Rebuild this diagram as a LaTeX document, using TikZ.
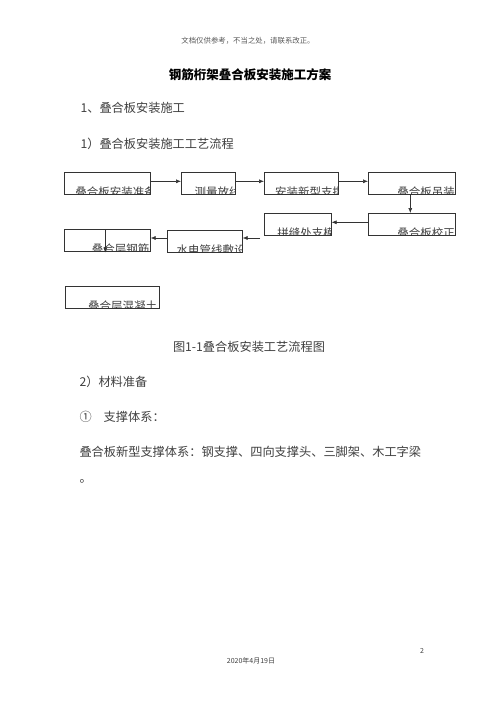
\documentclass[tikz,border=0pt]{standalone}
\usepackage{fontspec}
\setmainfont{Noto Sans CJK SC}
\usetikzlibrary{arrows.meta}
\newcommand{\bodyfont}{\fontsize{12.2}{14}\selectfont}
\newcommand{\boxfont}{\fontsize{11.5}{13}\selectfont}
\begin{document}
\begin{tikzpicture}[x=1pt,y=-1pt,
   flowbox/.style={draw=black!80,line width=0.6pt,anchor=north west,inner sep=0pt,minimum height=22pt},
   boxlabel/.style 2 args={path picture={\node[anchor=north west,inner sep=0pt,font=\boxfont,text=black!75]
       at ([xshift=#1pt,yshift=-8.5pt]path picture bounding box.north west) {#2};}},
   flowarrow/.style={-{Latex[length=5pt,width=4pt]},draw=black!80,line width=0.6pt},
   bodyline/.style={anchor=west,font=\bodyfont,text=black!75}]
\useasboundingbox[fill=white] (0,0) rectangle (500,707);
% page head and title
\node[font=\fontsize{7.4}{9}\selectfont,text=black!65] (hdr) at (248,41) {文档仅供参考，不当之处，请联系改正。};
\node[font=\fontsize{12.5}{14}\selectfont\bfseries] (title) at (250,75) {钢筋桁架叠合板安装施工方案};
\node[bodyline] (s1) at (77,108) {1、叠合板安装施工};
\node[bodyline] (s11) at (77,144) {1）叠合板安装施工工艺流程};
% flow chart
\node[flowbox,minimum width=86pt,boxlabel={8}{叠合板安装准备}] (b1) at (64,172) {};
\node[flowbox,minimum width=54pt,boxlabel={9}{测量放线}] (b2) at (181,172) {};
\node[flowbox,minimum width=74pt,boxlabel={8}{安装新型支撑}] (b3) at (264,172) {};
\node[flowbox,minimum width=87pt,boxlabel={14}{叠合板吊装}] (b4) at (368,172) {};
\node[flowbox,minimum width=87pt,boxlabel={14}{叠合板校正}] (b5) at (368,213) {};
\node[flowbox,minimum width=67pt,boxlabel={8}{拼缝处支模}] (b6) at (264,213) {};
\node[flowbox,minimum width=75pt,boxlabel={6}{水电管线敷设}] (b7) at (167,230) {};
\node[flowbox,minimum width=86pt,boxlabel={13}{叠合层钢筋}] (b8) at (64,229) {};
\node[flowbox,minimum width=94pt,boxlabel={10}{叠合层混凝土}] (b9) at (65,286) {};
\coordinate (free) at (260,238);
\draw[flowarrow] ([yshift=2pt]b1.east) -- ([yshift=2pt]b2.west);
\draw[flowarrow] ([yshift=2pt]b2.east) -- ([yshift=2pt]b3.west);
\draw[flowarrow] ([yshift=2pt]b3.east) -- ([yshift=2pt]b4.west);
\draw[flowarrow] ([xshift=-1.5pt]b4.south) -- ([xshift=-1.5pt]b5.north);
\draw[flowarrow] ([yshift=2pt]b5.west) -- ([yshift=2pt]b6.east);
\draw[flowarrow] (free) -- (b7.east |- free);
\draw[flowarrow] (b7.west |- free) -- (b8.east |- free);
\draw[flowarrow] ([xshift=-2pt]b8.north) -- ([xshift=-2pt,yshift=-1pt]b8.south);
% caption and text
\node[font=\bodyfont,text=black!75] (cap) at (249,347) {图1-1叠合板安装工艺流程图};
\node[bodyline] (s2) at (76,382) {2）材料准备};
\node[bodyline] (s21) at (76,417) {①\hspace{12pt}支撑体系：};
\node[bodyline] (s22) at (76,452) {叠合板新型支撑体系：钢支撑、四向支撑头、三脚架、木工字梁};
\node[bodyline] (s23) at (76,481) {。};
% page foot
\node[font=\fontsize{7}{8}\selectfont,text=black!75] (pg) at (422,651) {2};
\node[font=\fontsize{7}{8}\selectfont,text=black!75] (date) at (251,661) {2020年4月19日};
\end{tikzpicture}
\end{document}
